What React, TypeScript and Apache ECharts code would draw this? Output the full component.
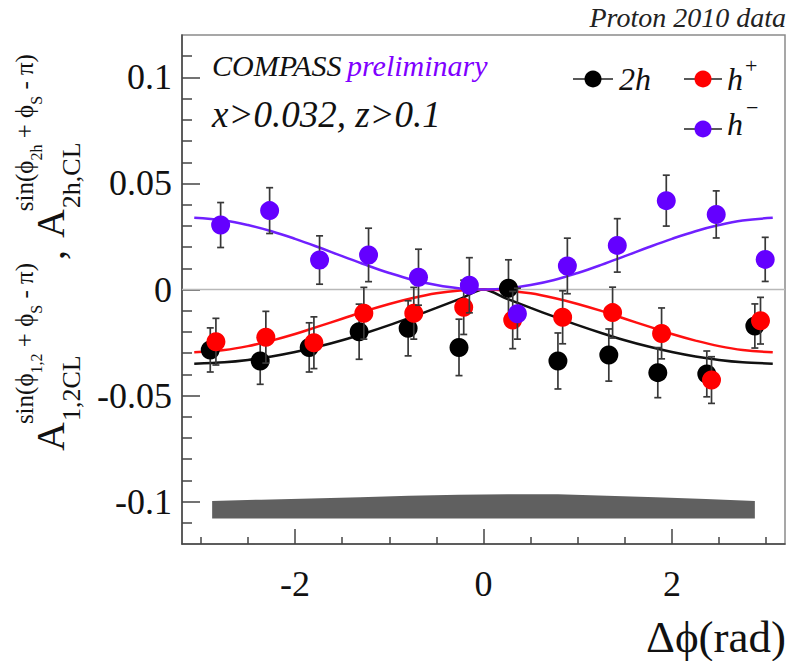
import React, { useEffect, useRef } from "react";
import * as echarts from "echarts";

const SERIF = '"Liberation Serif", "Times New Roman", serif';

// Δφ bin centres (rad), asymmetries and statistical errors for each hadron sample
const phi2h = [-2.9, -2.37, -1.85, -1.32, -0.8, -0.26, 0.265, 0.79, 1.33, 1.85, 2.37, 2.88];
const asym2h = [-0.0285, -0.0337, -0.0273, -0.0199, -0.0183, -0.0273, 0.0006, -0.0337, -0.0309, -0.0392, -0.0398, -0.0172];
const err2h = [0.0104, 0.011, 0.0116, 0.013, 0.013, 0.0133, 0.0134, 0.0132, 0.0123, 0.0118, 0.0108, 0.0104];

const phiHplus = [-2.84, -2.31, -1.8, -1.27, -0.74, -0.21, 0.31, 0.84, 1.37, 1.89, 2.42, 2.94];
const asymHplus = [-0.0246, -0.0225, -0.0251, -0.0112, -0.0112, -0.0084, -0.0144, -0.0131, -0.0109, -0.0207, -0.0427, -0.0147];
const errHplus = [0.011, 0.0122, 0.0122, 0.0122, 0.0122, 0.0128, 0.0135, 0.0125, 0.012, 0.012, 0.011, 0.011];

const phiHminus = [-2.79, -2.27, -1.74, -1.22, -0.69, -0.15, 0.36, 0.89, 1.42, 1.94, 2.47, 2.99];
const asymHminus = [0.0304, 0.0372, 0.0139, 0.0163, 0.0058, 0.002, -0.0114, 0.0111, 0.0208, 0.0419, 0.0354, 0.0142];
const errHminus = [0.0106, 0.0108, 0.0114, 0.0126, 0.0132, 0.013, 0.012, 0.0131, 0.0126, 0.012, 0.0111, 0.0104];

// systematic uncertainty band (lower and upper edge)
const sysPhi = [-2.88, -2.36, -1.83, -1.31, -0.79, -0.26, 0.26, 0.79, 1.31, 1.83, 2.36, 2.88];
const sysLow = [-0.108, -0.108, -0.108, -0.108, -0.108, -0.108, -0.108, -0.108, -0.108, -0.108, -0.108, -0.108];
const sysHigh = [-0.0997, -0.0991, -0.0985, -0.0979, -0.0973, -0.0968, -0.0966, -0.0966, -0.0972, -0.098, -0.0988, -0.0997];

// fitted curves
const fitPhi = [-3.07, -2.75, -2.5, -2.25, -2, -1.75, -1.5, -1.25, -1, -0.75, -0.5, -0.25, 0, 0.25, 0.5, 0.75, 1, 1.25, 1.5, 1.75, 2, 2.25, 2.5, 2.75, 3.07];
const fit2h = [-0.035, -0.0343, -0.0332, -0.0316, -0.0295, -0.0269, -0.0239, -0.0205, -0.0168, -0.0128, -0.0087, -0.0044, 0, -0.0044, -0.0087, -0.0128, -0.0168, -0.0205, -0.0239, -0.0269, -0.0295, -0.0316, -0.0332, -0.0343, -0.035];
const fitHplus = [-0.0296, -0.0285, -0.0267, -0.0241, -0.021, -0.0174, -0.0138, -0.0101, -0.0068, -0.004, -0.0018, -0.0005, 0, -0.0005, -0.0018, -0.004, -0.0068, -0.0101, -0.0138, -0.0174, -0.021, -0.0241, -0.0267, -0.0285, -0.0296];
const fitHminus = [0.0338, 0.0325, 0.0304, 0.0275, 0.0239, 0.0199, 0.0157, 0.0116, 0.0078, 0.0045, 0.0021, 0.0005, 0, 0.0005, 0.0021, 0.0045, 0.0078, 0.0116, 0.0157, 0.0199, 0.0239, 0.0275, 0.0304, 0.0325, 0.0338];

// axes
const xRange = [-3.2, 3.2];
const yRange = [-0.12, 0.12];
const xMajorTicks = [-2, 0, 2];
const xTickLabels = ["-2", "0", "2"];
const xMinorTicks = [-3, -2.5, -1.5, -1, -0.5, 0.5, 1, 1.5, 2.5, 3];
const yMajorTicks = [-0.1, -0.05, 0, 0.05, 0.1];
const yTickLabels = ["-0.1", "-0.05", "0", "0.05", "0.1"];
const yMinorTicks = [-0.11, -0.09, -0.08, -0.07, -0.06, -0.04, -0.03, -0.02, -0.01, 0.01, 0.02, 0.03, 0.04, 0.06, 0.07, 0.08, 0.09, 0.11];

const COLOR_2H = "#000000";
const COLOR_HP = "#ff0000";
const COLOR_HM = "#6400ff";
const COLOR_HM_FIT = "#7020ff";
const ERR_COLOR = "#383838";
const PHI = "\u03d5";

let measureCtx: CanvasRenderingContext2D | null = null;
function textWidth(text: string, size: number, italic = false): number {
  if (!measureCtx) measureCtx = document.createElement("canvas").getContext("2d");
  if (!measureCtx) return text.length * size * 0.5;
  measureCtx.font = `${italic ? "italic " : ""}${size}px ${SERIF}`;
  return measureCtx.measureText(text).width;
}

// text element positioned by its alphabetic baseline
function label(text: string, x: number, baseline: number, size: number, opts: any = {}) {
  return {
    type: "text",
    x,
    y: baseline - 0.34 * size,
    z: 100,
    silent: true,
    style: {
      text,
      fontFamily: SERIF,
      fontSize: size,
      fontStyle: opts.italic ? "italic" : "normal",
      fill: opts.color || "#111",
      align: opts.align || "left",
      verticalAlign: "middle",
    },
  };
}

function yTitleChildren() {
  const children: any[] = [];
  let cursor = 0;
  const put = (text: string, x: number, base: number, size: number) => {
    children.push(label(text, x, base, size));
    return x + textWidth(text, size);
  };
  const block = (sub: string, supSub: string) => {
    const aEnd = put("A", cursor, 64, 40);
    const subEnd = put(sub, aEnd + 1, 80, 26);
    let sx = aEnd - 2;
    sx = put("sin(" + PHI, sx, 33, 25);
    sx = put(supSub, sx, 42, 16);
    sx = put(" + " + PHI, sx, 33, 25);
    sx = put("S", sx, 42, 16);
    sx = put(" - \u03c0)", sx, 33, 25);
    cursor = Math.max(subEnd, sx);
  };
  block("1,2CL", "1,2");
  cursor = put(",", cursor + 3, 64, 40) + 12;
  block("2h,CL", "2h");
  return children;
}

function errorBars(xs: number[], ys: number[], es: number[], z: number) {
  return {
    type: "custom",
    silent: true,
    z,
    data: xs.map((x, i) => [x, ys[i], es[i]]),
    encode: { x: 0, y: 1 },
    renderItem: (_params: any, api: any) => {
      const x = api.value(0);
      const y = api.value(1);
      const e = api.value(2);
      const top = api.coord([x, y + e]);
      const bot = api.coord([x, y - e]);
      const cap = 3.5;
      const st = { stroke: ERR_COLOR, lineWidth: 1.7 };
      return {
        type: "group",
        children: [
          { type: "line", shape: { x1: top[0], y1: top[1], x2: bot[0], y2: bot[1] }, style: st },
          { type: "line", shape: { x1: top[0] - cap, y1: top[1], x2: top[0] + cap, y2: top[1] }, style: st },
          { type: "line", shape: { x1: bot[0] - cap, y1: bot[1], x2: bot[0] + cap, y2: bot[1] }, style: st },
        ],
      };
    },
  };
}

// systematic band drawn as one polygon through the lower and upper edges
function systematicBand() {
  return {
    type: "custom",
    silent: true,
    z: 1,
    data: sysPhi.map((x, i) => [x, sysLow[i], sysHigh[i]]),
    encode: { x: 0, y: [1, 2] },
    renderItem: (params: any, api: any) => {
      if (params.dataIndex !== 0) return { type: "group", children: [] };
      const upper = sysPhi.map((x, i) => api.coord([x, sysHigh[i]]));
      const lower = sysPhi.map((x, i) => api.coord([x, sysLow[i]])).reverse();
      return {
        type: "polygon",
        shape: { points: upper.concat(lower) },
        style: { fill: "#606060" },
      };
    },
  };
}

function points(xs: number[], ys: number[], color: string, z: number) {
  return {
    type: "scatter",
    z,
    symbol: "circle",
    symbolSize: 19,
    itemStyle: { color, opacity: 1 },
    data: xs.map((x, i) => [x, ys[i]]),
  };
}

function fitLine(ys: number[], color: string, smooth: number) {
  return {
    type: "line",
    z: 2,
    symbol: "none",
    smooth,
    lineStyle: { color, width: 2.5 },
    data: fitPhi.map((x, i) => [x, ys[i]]),
  };
}

export default function App() {
  const ref = useRef<HTMLDivElement>(null);

  useEffect(() => {
    if (!ref.current) return;
    const chart = echarts.init(ref.current, null, { renderer: "svg" });

    const axisFont = { fontFamily: SERIF, fontSize: 36, color: "#111" };

    const option: any = {
      animation: false,
      backgroundColor: "#ffffff",
      grid: {
        left: 182,
        right: 3,
        top: 35,
        bottom: 117,
        show: true,
        borderColor: "#8a8a8a",
        borderWidth: 1.5,
        backgroundColor: "transparent",
      },
      xAxis: [
        {
          type: "value",
          position: "bottom",
          min: xRange[0],
          max: xRange[1],
          splitLine: { show: false },
          axisLine: { show: true, onZero: false, lineStyle: { color: "#444", width: 1.5 } },
          axisTick: { show: true, inside: true, length: 15, customValues: xMajorTicks, lineStyle: { color: "#444", width: 1.5 } },
          axisLabel: {
            ...axisFont,
            margin: 22,
            customValues: xMajorTicks,
            formatter: (v: number) => {
              const i = xMajorTicks.findIndex((t) => Math.abs(t - v) < 1e-9);
              return i >= 0 ? xTickLabels[i] : "";
            },
          },
        },
        {
          type: "value",
          position: "bottom",
          min: xRange[0],
          max: xRange[1],
          splitLine: { show: false },
          axisLine: { show: false, onZero: false },
          axisTick: { show: true, inside: true, length: 7, customValues: xMinorTicks, lineStyle: { color: "#444", width: 1.5 } },
          axisLabel: { show: false },
        },
      ],
      yAxis: [
        {
          type: "value",
          position: "left",
          min: yRange[0],
          max: yRange[1],
          splitLine: { show: false },
          axisLine: { show: true, onZero: false, lineStyle: { color: "#444", width: 1.5 } },
          axisTick: { show: true, inside: true, length: 18, customValues: yMajorTicks, lineStyle: { color: "#444", width: 1.5 } },
          axisLabel: {
            ...axisFont,
            margin: 10,
            customValues: yMajorTicks,
            formatter: (v: number) => {
              const i = yMajorTicks.findIndex((t) => Math.abs(t - v) < 1e-9);
              return i >= 0 ? yTickLabels[i] : "";
            },
          },
        },
        {
          type: "value",
          position: "left",
          min: yRange[0],
          max: yRange[1],
          splitLine: { show: false },
          axisLine: { show: false, onZero: false },
          axisTick: { show: true, inside: true, length: 10, customValues: yMinorTicks, lineStyle: { color: "#444", width: 1.5 } },
          axisLabel: { show: false },
        },
      ],
      series: [
        // zero reference line
        {
          type: "line",
          z: 1,
          symbol: "none",
          silent: true,
          lineStyle: { color: "#b8b8b8", width: 1.5 },
          data: [
            [xRange[0], 0],
            [xRange[1], 0],
          ],
        },
        systematicBand(),
        fitLine(fit2h, "#111111", 0.3),
        fitLine(fitHplus, "#ff1010", 0.4),
        fitLine(fitHminus, COLOR_HM_FIT, 0.4),
        errorBars(phi2h, asym2h, err2h, 3),
        points(phi2h, asym2h, COLOR_2H, 4),
        errorBars(phiHplus, asymHplus, errHplus, 5),
        points(phiHplus, asymHplus, COLOR_HP, 6),
        errorBars(phiHminus, asymHminus, errHminus, 7),
        points(phiHminus, asymHminus, COLOR_HM, 8),
      ],
      graphic: [
        // header and annotations
        label("Proton 2010 data", 786, 27, 28, { italic: true, align: "right", color: "#222" }),
        label("COMPASS", 212, 76, 30, { italic: true, color: "#111" }),
        label("preliminary", 347, 76, 30, { italic: true, color: "#8000ff" }),
        label("x>0.032, z>0.1", 212, 127, 37, { italic: true, color: "#111" }),
        // x-axis title
        label("\u0394" + PHI + "(rad)", 786, 652, 45, { align: "right", color: "#111" }),
        // y-axis title (rotated)
        {
          type: "group",
          x: 0,
          y: 451,
          rotation: Math.PI / 2,
          silent: true,
          children: yTitleChildren(),
        },
        // legend
        { type: "line", z: 100, silent: true, shape: { x1: 573, y1: 79, x2: 613, y2: 79 }, style: { stroke: "#222", lineWidth: 1.5 } },
        { type: "circle", z: 101, silent: true, shape: { cx: 593, cy: 79, r: 8.5 }, style: { fill: COLOR_2H } },
        label("2h", 619, 90, 32, { italic: true }),
        { type: "line", z: 100, silent: true, shape: { x1: 684, y1: 79, x2: 722, y2: 79 }, style: { stroke: "#222", lineWidth: 1.5 } },
        { type: "circle", z: 101, silent: true, shape: { cx: 703, cy: 79, r: 8.5 }, style: { fill: COLOR_HP } },
        label("h", 727, 90, 32, { italic: true }),
        label("+", 745, 73, 22, { italic: false }),
        { type: "line", z: 100, silent: true, shape: { x1: 684, y1: 129, x2: 722, y2: 129 }, style: { stroke: "#222", lineWidth: 1.5 } },
        { type: "circle", z: 101, silent: true, shape: { cx: 703, cy: 129, r: 8.5 }, style: { fill: COLOR_HM } },
        label("h", 727, 135, 32, { italic: true }),
        label("\u2212", 746, 115, 22, { italic: false }),
      ],
    };

    chart.setOption(option);
    return () => chart.dispose();
  }, []);

  return (
    <div
      ref={ref}
      style={{ position: "absolute", left: 0, top: 0, width: 788, height: 661, background: "#fff" }}
    />
  );
}
